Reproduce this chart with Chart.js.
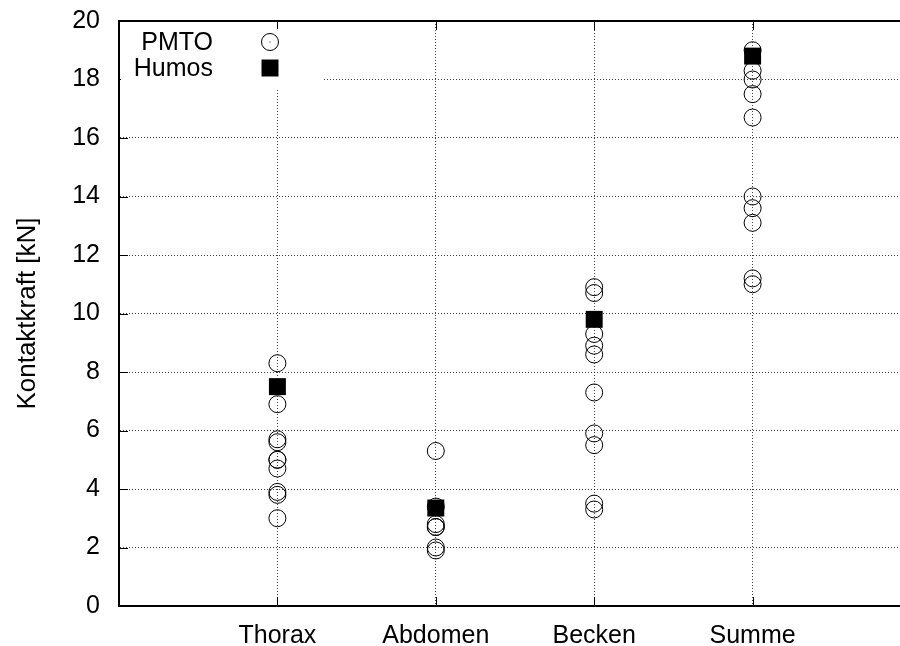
<!DOCTYPE html>
<html>
<head>
<meta charset="utf-8">
<script src="https://cdn.jsdelivr.net/npm/chart.js@4/dist/chart.umd.min.js"></script>
<style>
    body { margin: 0; overflow: hidden; background: #fff; }
    #wrap { width: 912px; height: 646px; }
</style>
</head>
<body>
<!-- Bild ist rechts abgeschnitten: Canvas etwas breiter als das Fenster -->
<div id="wrap"><canvas id="kraftChart" width="912" height="646" style="width:912px;height:646px"></canvas></div>
<script>
// ---- Daten ----
const kategorien = ['Thorax', 'Abdomen', 'Becken', 'Summe'];
const thoraxPMTO = [8.3, 6.9, 5.7, 5.6, 5.0, 5.0, 4.7, 3.9, 3.8, 3.0];
const abdomenPMTO = [5.3, 3.4, 2.8, 2.7, 2.7, 2.0, 1.9];
const beckenPMTO = [10.9, 10.7, 9.3, 8.9, 8.6, 7.3, 5.9, 5.5, 3.5, 3.3];
const summePMTO = [19.0, 18.3, 18.0, 17.5, 16.7, 14.0, 13.6, 13.1, 11.2, 11.0];
const humos = [7.5, 3.35, 9.8, 18.8];
const yTicks = [0, 2, 4, 6, 8, 10, 12, 14, 16, 18, 20];

const schrift = { family: '"Liberation Sans", Arial, sans-serif', size: 25 };

// PMTO-Punkte je Kategorie
const pmtoPunkte = [];
[thoraxPMTO, abdomenPMTO, beckenPMTO, summePMTO].forEach((werte, i) => {
    werte.forEach(v => pmtoPunkte.push({ x: i + 1, y: v }));
});
const humosPunkte = humos.map((v, i) => ({ x: i + 1, y: v }));

// ---- Rahmen, Ticks nach innen, Legende ----
const rahmenPlugin = {
    id: 'rahmen',
    afterDatasetsDraw(chart) {
        const ctx = chart.ctx;
        const area = chart.chartArea;
        const xs = chart.scales.x;
        const ys = chart.scales.y;
        ctx.save();
        ctx.strokeStyle = '#000';
        ctx.lineWidth = 1;
        // Ticks links
        ys.ticks.forEach(t => {
            const py = Math.round(ys.getPixelForValue(t.value)) + 0.5;
            ctx.beginPath();
            ctx.moveTo(area.left, py);
            ctx.lineTo(area.left + 9, py);
            ctx.stroke();
        });
        // Ticks unten und oben
        xs.ticks.forEach(t => {
            const px = Math.round(xs.getPixelForValue(t.value)) + 0.5;
            ctx.beginPath();
            ctx.moveTo(px, area.bottom);
            ctx.lineTo(px, area.bottom - 9);
            ctx.moveTo(px, area.top);
            ctx.lineTo(px, area.top + 9);
            ctx.stroke();
        });
        // oberer Rahmen
        ctx.lineWidth = 2;
        ctx.beginPath();
        ctx.moveTo(area.left - 1, area.top);
        ctx.lineTo(chart.width, area.top);
        ctx.stroke();

        // Legende
        ctx.fillStyle = '#fff';
        ctx.fillRect(area.left + 2, area.top + 8, 202, 59);
        ctx.font = schrift.size + 'px ' + schrift.family;
        ctx.textAlign = 'right';
        ctx.textBaseline = 'middle';
        const symX = area.left + 151;
        chart.data.datasets.forEach((ds, i) => {
            const y = area.top + 21 + i * 26;
            ctx.fillStyle = '#000';
            ctx.fillText(ds.label, area.left + 94, y + 1);
            if (ds.pointStyle === 'circle') {
                ctx.lineWidth = 1;
                ctx.beginPath();
                ctx.arc(symX, y, ds.pointRadius, 0, Math.PI * 2);
                ctx.stroke();
                ctx.fillRect(symX - 0.5, y - 0.5, 1, 1);
            } else {
                const s = ds.pointRadius * Math.SQRT1_2;
                ctx.fillRect(symX - s, y - s, 2 * s, 2 * s);
            }
        });
        ctx.restore();
    }
};

// ---- Chart ----
const ctx = document.getElementById('kraftChart').getContext('2d');
new Chart(ctx, {
    type: 'scatter',
    data: {
        datasets: [
            {
                label: 'PMTO',
                data: pmtoPunkte,
                pointStyle: 'circle',
                pointRadius: 8.5,
                borderColor: '#000',
                backgroundColor: 'rgba(0,0,0,0)',
                borderWidth: 1
            },
            {
                label: 'Humos',
                data: humosPunkte,
                pointStyle: 'rect',
                pointRadius: 12,
                borderColor: '#000',
                backgroundColor: '#000',
                borderWidth: 0
            }
        ]
    },
    options: {
        responsive: false,
        animation: false,
        layout: { autoPadding: false, padding: { top: 21, right: 1, left: 0, bottom: 0 } },
        plugins: { legend: { display: false }, tooltip: { enabled: false } },
        scales: {
            x: {
                type: 'linear',
                min: 0,
                max: 5,
                afterBuildTicks: scale => {
                    scale.ticks = kategorien.map((k, i) => ({ value: i + 1 }));
                },
                afterFit: scale => {
                    scale.height = 40;
                    scale.paddingLeft = 0;
                    scale.paddingRight = 0;
                },
                ticks: {
                    color: '#000',
                    font: schrift,
                    padding: 15,
                    maxRotation: 0,
                    callback: v => kategorien[v - 1]
                },
                grid: {
                    drawTicks: false,
                    color: 'rgba(0,0,0,0.75)',
                    lineWidth: 1
                },
                border: { display: true, color: '#000', width: 2, dash: [1, 2] }
            },
            y: {
                min: 0,
                max: 20,
                afterBuildTicks: scale => {
                    scale.ticks = yTicks.map(v => ({ value: v }));
                },
                afterFit: scale => {
                    scale.width = 119;
                    scale.paddingTop = 0;
                    scale.paddingBottom = 0;
                },
                ticks: { color: '#000', font: schrift, padding: 19 },
                grid: {
                    drawTicks: false,
                    color: c => (c.tick && (c.tick.value === 0 || c.tick.value === 20)) ? 'rgba(0,0,0,0)' : 'rgba(0,0,0,0.75)',
                    lineWidth: 1
                },
                border: { display: true, color: '#000', width: 2, dash: [1, 2] },
                title: {
                    display: true,
                    text: 'Kontaktkraft [kN]',
                    color: '#000',
                    font: { family: schrift.family, size: 26 },
                    padding: { top: 12, bottom: 0 }
                }
            }
        }
    },
    plugins: [rahmenPlugin]
});
</script>
</body>
</html>
